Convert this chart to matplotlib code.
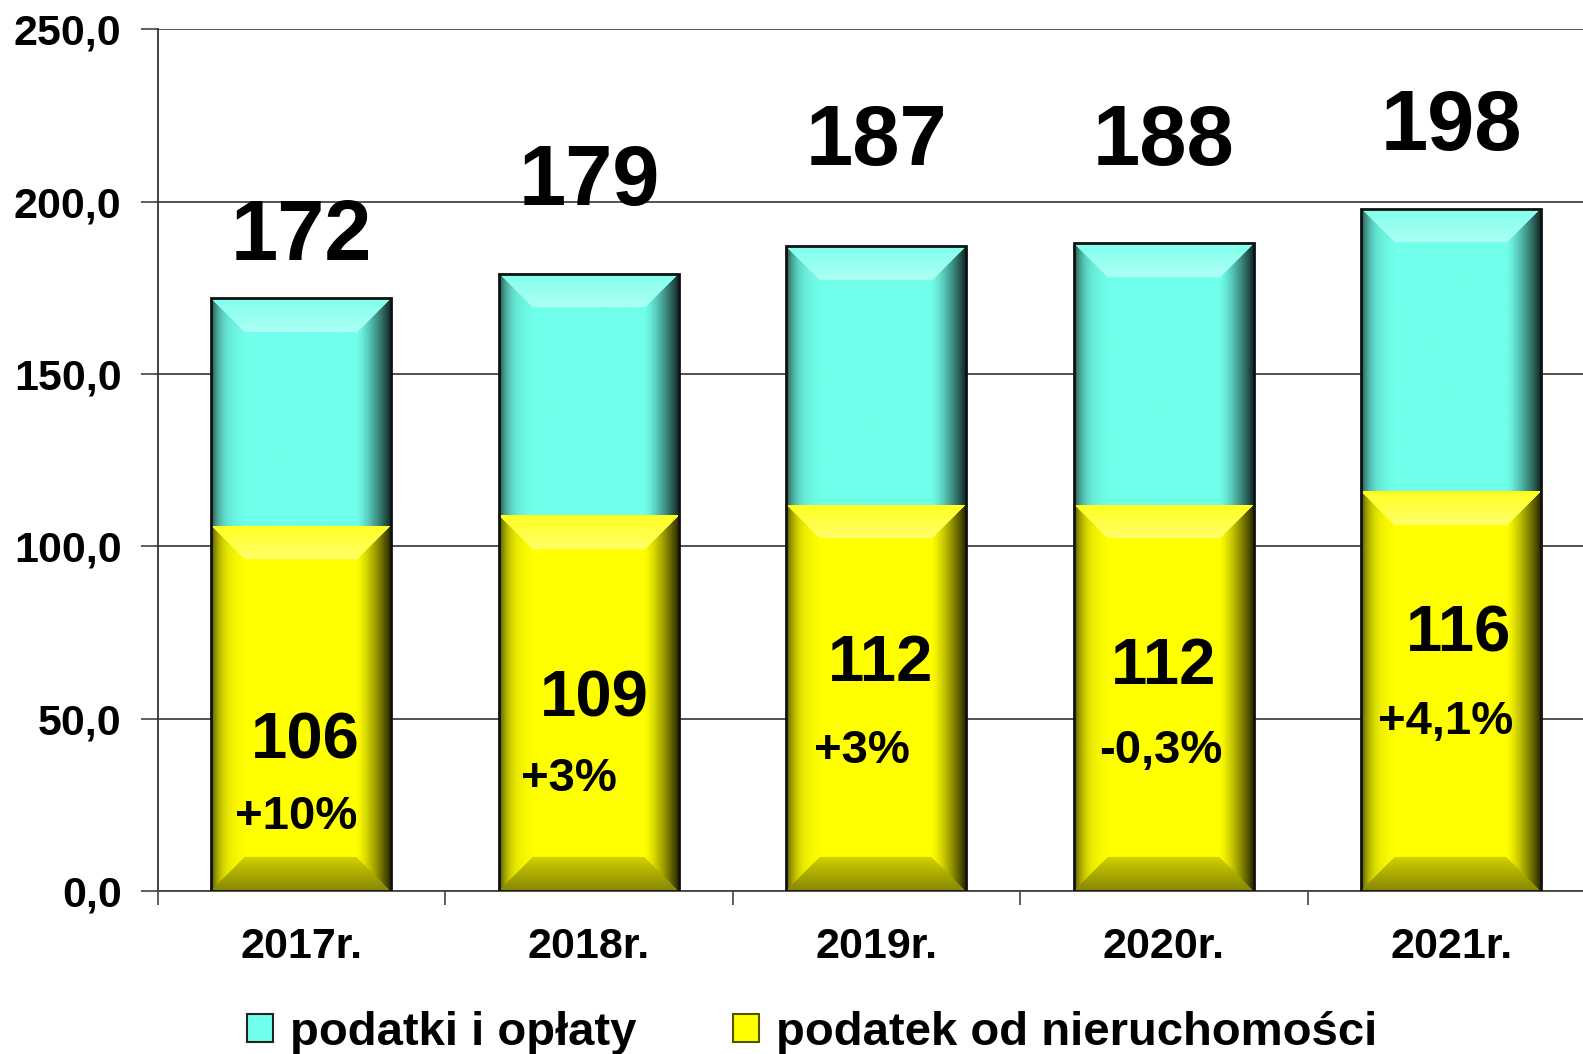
import numpy as np
import matplotlib
matplotlib.use('Agg')
import matplotlib.pyplot as plt
from matplotlib.colors import to_rgb
from matplotlib.patches import Patch

plt.rcParams['font.family'] = ['Liberation Sans', 'DejaVu Sans']
plt.rcParams['font.weight'] = 'bold'

###Dane
lata = ['2017r.', '2018r.', '2019r.', '2020r.', '2021r.']
nieruchomosci = [106, 109, 112, 112, 116]          # podatek od nieruchomości
oplaty = [66, 70, 75, 76, 82]                      # podatki i opłaty (reszta)
razem = [172, 179, 187, 188, 198]
etykiety_gora = ['172', '179', '187', '188', '198']
etykiety_dol = ['106', '109', '112', '112', '116']
zmiany = ['+10%', '+3%', '+3%', '-0,3%', '+4,1%']
yticks = [0, 50, 100, 150, 200, 250]

###Polozenie etykiet (uklad, nie dane)
y_gora = [189.5, 205.5, 217, 217, 221.5]
y_dol = [43.5, 55.5, 66, 65, 74.5]
y_zmiana = [21.5, 32.5, 40.5, 40.5, 49]
dx_dol = [0.015, 0.02, 0.015, 0.0, 0.025]
dx_zmiana = [-0.02, -0.07, -0.05, -0.01, -0.02]

CYAN = '#70FFEA'
YELLOW = '#FFFF00'

fig = plt.figure(figsize=(15.83, 10.54), dpi=100)
ax = fig.add_axes([157.7/1583, 1 - 891/1054, 1437.5/1583, 861.7/1054])
ax.set_xlim(-0.5, 4.5)
ax.set_ylim(0, 250)

x = np.arange(len(lata))
w = 0.626
b1 = ax.bar(x, nieruchomosci, w, color=YELLOW, zorder=2)
b2 = ax.bar(x, oplaty, w, bottom=nieruchomosci, color=CYAN, zorder=2)
ax.bar(x, razem, w, fill=False, edgecolor='#111111', linewidth=2, zorder=5)

px_x = 1437.5 / 5.0
px_y = 861.7 / 250.0


def bevel(color, wpx, hpx, b=34, dol=True):
    rgb = np.array(to_rgb(color))
    nx, ny = max(int(wpx), 2), max(int(hpx), 2)
    U, V = np.meshgrid(np.arange(nx) + 0.5, np.arange(ny) + 0.5)
    bot = ny - V if dol else np.full_like(V, 1e6)
    d = np.stack([V, nx - U, bot, U])  # gora, prawo, dol, lewo
    idx = np.argmin(d, axis=0)
    m = np.min(d, axis=0)
    t = np.clip(1 - m / b, 0, 1)
    img = np.tile(rgb, (ny, nx, 1))
    inside = m < b
    # gora - jasniej
    k = inside & (idx == 0)
    a = (0.12 + 0.3 * (1 - t))[k][:, None]
    img[k] = rgb + (1 - rgb) * a
    # prawo - ciemniej
    k = inside & (idx == 1)
    f = (1 - 0.85 * t ** 1.3)[k][:, None]
    img[k] = rgb * f
    # dol - ciemniej
    k = inside & (idx == 2)
    f = (0.82 - 0.3 * t)[k][:, None]
    img[k] = rgb * f
    # lewo
    k = inside & (idx == 3)
    f = (1 - 0.6 * t ** 4 - 0.12 * t)[k][:, None]
    img[k] = rgb * f
    return np.clip(img, 0, 1)


for bars, col, dol in [(b1, YELLOW, True), (b2, CYAN, False)]:
    for r in bars:
        x0, y0, ww, hh = r.get_x(), r.get_y(), r.get_width(), r.get_height()
        img = bevel(col, ww * px_x, hh * px_y, dol=dol)
        ax.imshow(img, extent=(x0, x0 + ww, y0, y0 + hh), origin='upper',
                  aspect='auto', interpolation='bilinear', zorder=3)

ax.set_xlim(-0.5, 4.5)
ax.set_ylim(0, 250)

###Osie
ax.set_yticks(yticks)
ax.set_yticklabels([('%.1f' % v).replace('.', ',') for v in yticks])
ax.tick_params(axis='y', labelsize=31, length=12, width=1.2, pad=14, color='#444444')
ax.set_xticks(x)
ax.set_xticklabels(lata)
ax.set_xticks(np.arange(-0.5, 5, 1), minor=True)
ax.tick_params(axis='x', which='major', length=0, labelsize=31, pad=26)
ax.tick_params(axis='x', which='minor', length=10, width=1.2, color='#444444')
for lab in ax.get_xticklabels() + ax.get_yticklabels():
    lab.set_fontweight('bold')

ax.yaxis.grid(True, color='#444444', linewidth=1.3, zorder=0)
ax.set_axisbelow(True)
for s in ['top', 'right']:
    ax.spines[s].set_visible(False)
ax.spines['left'].set_linewidth(1.3)
ax.spines['left'].set_color('#333333')
ax.spines['bottom'].set_linewidth(1.3)
ax.spines['bottom'].set_color('#444444')

###Etykiety
for i in range(len(lata)):
    ax.text(x[i], y_gora[i], etykiety_gora[i], ha='center', va='center',
            fontsize=61, fontweight='bold', zorder=6)
    ax.text(x[i] + dx_dol[i], y_dol[i], etykiety_dol[i], ha='center', va='center',
            fontsize=47, fontweight='bold', zorder=6)
    ax.text(x[i] + dx_zmiana[i], y_zmiana[i], zmiany[i], ha='center', va='center',
            fontsize=34, fontweight='bold', zorder=6)

###Legenda
uchwyty = [Patch(facecolor=CYAN, edgecolor='#222222', linewidth=1.5),
           Patch(facecolor=YELLOW, edgecolor='#555500', linewidth=1.5)]
fig.legend(uchwyty, ['podatki i opłaty', 'podatek od nieruchomości'],
           loc='center', bbox_to_anchor=(0.513, 0.02), ncol=2, frameon=False,
           prop={'size': 34, 'weight': 'bold'}, handlelength=0.55, handleheight=0.55,
           handletextpad=0.35, columnspacing=2.05, borderaxespad=0)

fig.savefig('out.png', dpi=100)
